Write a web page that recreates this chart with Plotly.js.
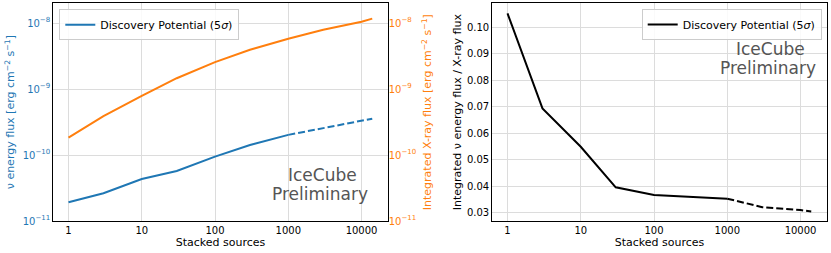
<!DOCTYPE html>
<html>
<head>
<meta charset="utf-8">
<script src="https://cdn.plot.ly/plotly-3.0.1.min.js"></script>
<style>html,body{margin:0;padding:0;background:#fff;}#plot{width:831px;height:253px;}</style>
</head>
<body>
<div id="plot"></div>
<script>
// ---- data ----
var xSolid = [1, 3, 10, 30, 100, 300, 1000];
var xDash = [1000, 3000, 10000, 14000];
var xAll = [1, 3, 10, 30, 100, 300, 1000, 3000, 10000, 14000];
var nuFluxSolid = [1.92e-11, 2.63e-11, 4.33e-11, 5.74e-11, 9.47e-11, 1.42e-10, 2.02e-10];
var nuFluxDash = [2.02e-10, 2.55e-10, 3.32e-10, 3.56e-10];
var xrayFlux = [1.84e-10, 3.9e-10, 7.9e-10, 1.46e-9, 2.56e-9, 3.94e-9, 5.78e-9, 7.9e-9, 1.05e-8, 1.17e-8];
var ratioSolid = [0.1053, 0.0694, 0.0549, 0.0396, 0.0367, 0.0361, 0.0353];
var ratioDash = [0.0353, 0.0321, 0.0310, 0.0305];
var xTickVals = [1, 10, 100, 1000, 10000];
var xTickText = ['1', '10', '100', '1000', '10000'];
var logTickVals = [1e-11, 1e-10, 1e-9, 1e-8];
var logTickText = ['10<sup>−11</sup>', '10<sup>−10</sup>', '10<sup>−9</sup>', '10<sup>−8</sup>'];
var ratioTickVals = [0.03, 0.04, 0.05, 0.06, 0.07, 0.08, 0.09, 0.10];
var legendLabel = 'Discovery Potential (5<i>σ</i>)';

// ---- style ----
var FONT = 'DejaVu Sans, sans-serif';
var BLUE = '#1f77b4', ORANGE = '#ff7f0e';
var GRID = '#dcdcdc';
var W = 831, H = 253;
function px(x) { return x / W; }
function py(y) { return (H - y) / H; }

var traces = [
  {x: xSolid, y: nuFluxSolid, xaxis: 'x', yaxis: 'y', mode: 'lines', name: legendLabel,
   line: {color: BLUE, width: 2}, showlegend: true, legend: 'legend'},
  {x: xDash, y: nuFluxDash, xaxis: 'x', yaxis: 'y', mode: 'lines',
   line: {color: BLUE, width: 2, dash: '7px,3px'}, showlegend: false},
  {x: xAll, y: xrayFlux, xaxis: 'x', yaxis: 'y2', mode: 'lines',
   line: {color: ORANGE, width: 2}, showlegend: false},
  {x: xSolid, y: ratioSolid, xaxis: 'x2', yaxis: 'y3', mode: 'lines', name: legendLabel,
   line: {color: 'black', width: 2}, showlegend: true, legend: 'legend2'},
  {x: xDash, y: ratioDash, xaxis: 'x2', yaxis: 'y3', mode: 'lines',
   line: {color: 'black', width: 2, dash: '7px,3px'}, showlegend: false}
];

var tickFont = {family: FONT, size: 10, color: 'black'};
var titleFont = {family: FONT, size: 11, color: 'black'};
var yDom = [py(221), py(3.3)];
var logXRange = [-0.2075, 4.357];

function xAxis(dom, anchor) {
  return {
    domain: dom, anchor: anchor, type: 'log', range: logXRange,
    tickmode: 'array', tickvals: xTickVals, ticktext: xTickText,
    ticks: '', showgrid: true, gridcolor: GRID, gridwidth: 1,
    showline: true, linecolor: 'black', linewidth: 1.2, mirror: true,
    zeroline: false, tickfont: tickFont,
    title: {text: 'Stacked sources', font: titleFont, standoff: 3}
  };
}

var layout = {
  width: W, height: H,
  margin: {l: 0, r: 0, t: 0, b: 0},
  paper_bgcolor: 'white', plot_bgcolor: 'white',
  font: {family: FONT, size: 10},
  xaxis: xAxis([px(53.3), px(387.7)], 'y'),
  yaxis: {
    domain: yDom, anchor: 'x', type: 'log', range: [-11, -7.70],
    tickmode: 'array', tickvals: logTickVals, ticktext: logTickText,
    ticks: '', showgrid: true, gridcolor: GRID, gridwidth: 1,
    showline: true, linecolor: 'black', linewidth: 1.2, mirror: true,
    zeroline: false, tickfont: {family: FONT, size: 10, color: BLUE},
    title: {text: 'ν energy flux [erg cm<sup>−2</sup> s<sup>−1</sup>]', font: {family: FONT, size: 11, color: BLUE}, standoff: 5}
  },
  yaxis2: {
    overlaying: 'y', side: 'right', anchor: 'x', type: 'log', range: [-11, -7.70],
    tickmode: 'array', tickvals: logTickVals, ticktext: logTickText,
    ticks: '', showgrid: false, showline: false, zeroline: false,
    tickfont: {family: FONT, size: 10, color: ORANGE},
    title: {text: 'Integrated X-ray flux [erg cm<sup>−2</sup> s<sup>−1</sup>]', font: {family: FONT, size: 11, color: ORANGE}, standoff: 8}
  },
  xaxis2: xAxis([px(492.3), px(826.7)], 'y3'),
  yaxis3: {
    domain: yDom, anchor: 'x2', range: [0.02687, 0.1091],
    tickmode: 'array', tickvals: ratioTickVals, tickformat: '.2f',
    ticks: '', showgrid: true, gridcolor: GRID, gridwidth: 1,
    showline: true, linecolor: 'black', linewidth: 1.2, mirror: true,
    zeroline: false, tickfont: tickFont,
    title: {text: 'Integrated ν energy flux / X-ray flux', font: titleFont, standoff: 3}
  },
  legend: {
    x: px(59.3), y: py(9.3), xanchor: 'left', yanchor: 'top',
    bgcolor: 'rgba(255,255,255,0.85)', bordercolor: '#cccccc', borderwidth: 1,
    font: {family: FONT, size: 11, color: 'black'}
  },
  legend2: {
    x: px(821.7), y: py(9), xanchor: 'right', yanchor: 'top',
    bgcolor: 'rgba(255,255,255,0.85)', bordercolor: '#cccccc', borderwidth: 1,
    font: {family: FONT, size: 11, color: 'black'}
  },
  annotations: [
    {text: 'IceCube', xref: 'paper', yref: 'paper', x: px(322.7), y: py(175), xanchor: 'center', yanchor: 'middle', showarrow: false, font: {family: FONT, size: 17, color: '#555555'}},
    {text: 'Preliminary', xref: 'paper', yref: 'paper', x: px(320), y: py(194), xanchor: 'center', yanchor: 'middle', showarrow: false, font: {family: FONT, size: 17, color: '#555555'}},
    {text: 'IceCube', xref: 'paper', yref: 'paper', x: px(770.5), y: py(49), xanchor: 'center', yanchor: 'middle', showarrow: false, font: {family: FONT, size: 17, color: '#555555'}},
    {text: 'Preliminary', xref: 'paper', yref: 'paper', x: px(768), y: py(67.5), xanchor: 'center', yanchor: 'middle', showarrow: false, font: {family: FONT, size: 17, color: '#555555'}}
  ]
};

Plotly.newPlot('plot', traces, layout, {displayModeBar: false});
</script>
</body>
</html>
